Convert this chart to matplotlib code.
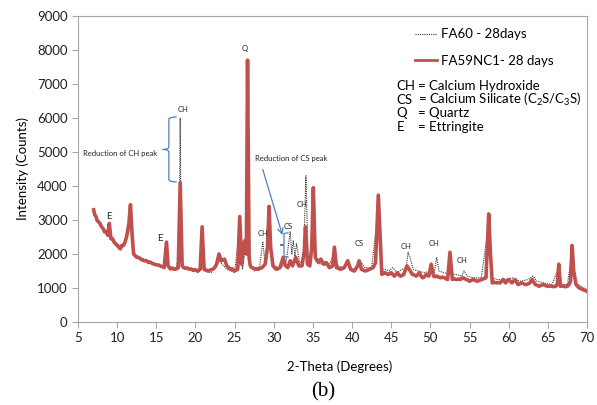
import matplotlib
matplotlib.use("Agg")
import matplotlib.pyplot as plt
from matplotlib.path import Path
from matplotlib.patches import PathPatch
from matplotlib.lines import Line2D

plt.rcParams['font.family'] = ['Lato', 'DejaVu Sans']
plt.rcParams['mathtext.fontset'] = 'custom'
plt.rcParams['mathtext.rm'] = 'Lato'

# FA59NC1 - 28 days (red)
red_theta = [7.0, 7.15, 7.3, 7.45, 7.6, 7.8, 8.0, 8.2, 8.4, 8.6, 8.8, 9.0, 9.2, 9.4, 9.6, 9.8, 10.0, 10.2,
             10.4, 10.6, 10.8, 11.0, 11.2, 11.5, 11.7, 11.9,
             12.1, 12.3, 12.5, 12.75, 13.0, 13.25, 13.5, 13.75, 14.0, 14.25, 14.5, 14.75, 15.0, 15.25,
             15.5, 15.75, 16.0, 16.3, 16.5, 16.8, 17.05, 17.3, 17.55, 17.8,
             18.05, 18.3, 18.5, 18.7, 18.95, 19.2, 19.45, 19.7, 19.95, 20.2, 20.6, 20.85, 21.1, 21.35,
             21.6, 21.9, 22.2, 22.45, 22.7, 23.0, 23.3,
             23.7, 24.0, 24.25, 24.5, 24.75, 25.0, 25.4, 25.65, 25.9, 26.1, 26.35, 26.5, 26.65, 26.85,
             27.0, 27.2, 27.4, 27.6, 27.8,
             28.0, 28.25, 28.5, 28.9, 29.2, 29.4, 29.6, 29.9, 30.1, 30.3, 30.55, 30.8, 31.2, 31.5, 31.8,
             32.1, 32.4, 32.8, 33.2, 33.6, 33.9, 34.05, 34.3, 34.6, 34.85, 35.05, 35.3, 35.7, 36.0,
             36.4, 36.7, 37.1, 37.3, 37.5, 37.75, 38.0, 38.25, 38.5, 38.75, 39.0, 39.45, 39.8, 40.05,
             40.3, 40.7, 40.9, 41.2, 41.45, 41.7, 41.95, 42.2,
             42.7, 43.0, 43.35, 43.55, 43.8, 44.0, 44.2, 44.4, 44.6, 44.8, 45.0, 45.2, 45.4, 45.6,
             45.8, 46.0, 46.2, 46.4, 46.6, 47.0, 47.3,
             47.7, 47.95, 48.2, 48.4, 48.6, 48.8, 49.0, 49.25, 49.5, 49.8, 50.1, 50.4, 50.6, 50.8,
             51.05, 51.3, 51.55, 51.8, 52.0, 52.2, 52.5, 52.8,
             53.05, 53.3, 53.55, 53.8, 54.0, 54.2, 54.4, 54.6, 54.8, 55.0, 55.25, 55.5, 55.75, 56.0,
             56.3, 56.6, 56.85, 57.1, 57.45, 57.65, 57.9, 58.15, 58.4, 58.65, 58.9,
             59.3, 59.6, 60.0, 60.4, 60.8, 61.2, 61.45, 61.7, 61.95, 62.2, 62.45, 62.7, 63.0, 63.4,
             63.65, 63.9, 64.15, 64.4, 64.7, 65.0,
             65.25, 65.5, 65.75, 66.0, 66.2, 66.4, 66.6, 66.8, 67.0, 67.25, 67.5, 67.7, 67.9, 68.1,
             68.3, 68.6, 68.8, 69.0, 69.25, 69.5, 69.75, 70.0]
red_counts = [3300, 3150, 3100, 2980, 2950, 2900, 2800, 2750, 2650, 2650, 2550, 2900, 2450, 2450, 2350, 2300,
              2250, 2200, 2150, 2250, 2250, 2350, 2500, 2900, 3450, 2600,
              2000, 1950, 1900, 1900, 1850, 1820, 1800, 1800, 1750, 1760, 1720, 1700, 1680, 1680,
              1650, 1630, 1600, 2350, 1650, 1560, 1580, 1550, 1560, 1600,
              4100, 1650, 1600, 1580, 1590, 1550, 1560, 1520, 1540, 1500, 1550, 2800, 1550, 1530,
              1500, 1530, 1550, 1600, 1700, 2000, 1800,
              1850, 1650, 1600, 1550, 1560, 1500, 1550, 3100, 1700, 2300, 2400, 2000, 7700, 1900,
              1650, 1600, 1580, 1550, 1570,
              1550, 1580, 1600, 1700, 2200, 3400, 2200, 1650, 1600, 1550, 1570, 1600, 1900, 1650, 1600,
              1800, 1650, 1900, 1650, 1650, 2100, 2800, 1700, 1650, 2200, 3950, 1900, 1750, 1850,
              1700, 1750, 1600, 1620, 1650, 2200, 1600, 1580, 1550, 1570, 1600, 1800, 1550, 1520,
              1500, 1650, 1800, 1550, 1520, 1500, 1520, 1550,
              1600, 1750, 3730, 2700, 1400, 1430, 1450, 1420, 1400, 1420, 1450, 1400, 1350, 1400,
              1450, 1380, 1350, 1370, 1400, 1650, 1550,
              1400, 1380, 1350, 1400, 1450, 1350, 1300, 1330, 1400, 1350, 1700, 1350, 1330, 1350,
              1320, 1300, 1320, 1300, 1270, 1250, 2050, 1250,
              1270, 1250, 1260, 1250, 1280, 1300, 1270, 1250, 1230, 1200, 1230, 1250, 1220, 1200,
              1230, 1250, 1280, 1300, 3180, 2100, 1150, 1170, 1150, 1160, 1150,
              1250, 1150, 1250, 1150, 1250, 1100, 1130, 1150, 1120, 1100, 1120, 1150, 1250, 1100,
              1080, 1050, 1080, 1100, 1070, 1050,
              1060, 1050, 1040, 1050, 1100, 1700, 1050, 1060, 1050, 1040, 1050, 1100, 1200, 2250,
              1500, 1100, 1050, 1000, 980, 950, 930, 900]

# FA60 - 28 days (black dotted)
blk_theta = [7.0, 7.5, 8.0, 8.5, 9.0, 9.3, 10.0, 10.5, 11.0, 11.5, 11.7, 12.0, 12.3, 13.0, 14.0, 15.0,
             16.0, 16.3, 16.6, 17.5, 17.9, 18.05, 18.2, 18.6, 19.5, 20.5, 20.85, 21.2, 22.0, 23.0,
             24.0, 25.0, 25.65, 26.0, 26.4, 26.65, 26.9, 27.5, 28.2, 28.6, 28.9, 29.4, 29.8, 30.5,
             31.2, 31.6, 32.1, 32.3, 32.5, 32.7, 32.9, 33.3, 33.8, 34.1, 34.4, 34.8, 35.05, 35.4,
             36.0, 37.0, 37.75, 38.2, 39.0, 39.45, 40.0, 40.6, 41.2, 41.6, 42.5, 43.35, 43.7, 44.2,
             44.7, 45.2, 45.7, 46.4, 46.9, 47.15, 47.4, 47.8, 48.5, 49.2, 50.0, 50.5, 50.8, 51.1,
             51.7, 52.5, 53.2, 54.0, 54.3, 54.7, 55.5, 56.5, 57.45, 57.8, 58.5, 59.5, 60.5, 61.5,
             62.5, 63.1, 63.6, 64.5, 65.5, 66.4, 66.8, 67.5, 68.1, 68.5, 69.2, 70.0]
blk_counts = [3200, 2950, 2800, 2650, 2800, 2500, 2300, 2250, 2350, 2700, 3200, 2300, 1950, 1900, 1800, 1700,
              1620, 2200, 1620, 1600, 1900, 6000, 1800, 1600, 1550, 1450, 2600, 1500, 1450, 1800,
              1550, 1450, 2800, 1550, 2200, 7400, 1700, 1500, 1650, 2350, 1700, 3000, 1700, 1600,
              1650, 1800, 2650, 2000, 2400, 1900, 2300, 1750, 1800, 4300, 1800, 1900, 3500, 1800,
              1700, 1650, 2000, 1650, 1600, 1750, 1550, 1600, 1750, 1600, 1600, 3300, 1550, 1550,
              1500, 1600, 1450, 1550, 1600, 2050, 1900, 1550, 1500, 1450, 1500, 1450, 1900, 1500,
              1450, 1400, 1400, 1350, 1500, 1350, 1300, 1300, 2900, 1300, 1250, 1250, 1300, 1200,
              1250, 1350, 1200, 1150, 1100, 1600, 1100, 1100, 2100, 1150, 1050, 950]

x_ticks = [5, 10, 15, 20, 25, 30, 35, 40, 45, 50, 55, 60, 65, 70]
y_ticks = [0, 1000, 2000, 3000, 4000, 5000, 6000, 7000, 8000, 9000]

# peak labels (text, theta, counts)
peak_labels = [('Q', 26.3, 8050), ('CH', 18.4, 6260), ('CH', 28.6, 2590), ('CS', 31.8, 2800),
               ('CH', 33.6, 3470), ('CS', 40.9, 2320), ('CH', 46.9, 2230), ('CH', 50.5, 2320),
               ('CH', 54.1, 1820)]
e_labels = [('E', 9.0, 3100), ('E', 15.5, 2450)]

red = '#C0504D'
blue = '#4F81BD'
grey = '#A6A6A6'


def brace(ax, x, y0, y1, w):
    # left-pointing curly brace from y0 to y1, hooks to the right by w
    ym = (y0 + y1) / 2
    h = (y1 - y0) * 0.04
    verts = [(x + w, y1), (x, y1), (x, y1 - h),
             (x, ym + h), (x, ym), (x - w * 0.8, ym),
             (x, ym), (x, ym - h),
             (x, y0 + h), (x, y0), (x + w, y0)]
    codes = [Path.MOVETO, Path.CURVE3, Path.CURVE3,
             Path.LINETO, Path.CURVE3, Path.CURVE3,
             Path.CURVE3, Path.CURVE3,
             Path.LINETO, Path.CURVE3, Path.CURVE3]
    ax.add_patch(PathPatch(Path(verts, codes), fill=False, edgecolor=blue, lw=0.9, zorder=5))


fig = plt.figure(figsize=(5.97, 4.05), dpi=100)
ax = fig.add_axes([78 / 597, 1 - 322 / 405, 509 / 597, 306 / 405])

ax.plot(blk_theta, blk_counts, color='#333333', lw=0.8, ls=(0, (1, 1)), zorder=2)
ax.plot(red_theta, red_counts, color=red, lw=2.6, zorder=3)

ax.set_xlim(5, 70)
ax.set_ylim(0, 9000)
ax.set_xticks(x_ticks)
ax.set_yticks(y_ticks)
ax.tick_params(axis='both', colors=grey, labelcolor='#222222', labelsize=9.5, length=4, width=0.8)
for s in ax.spines.values():
    s.set_color(grey)
    s.set_linewidth(0.8)

ax.set_xlabel('2-Theta (Degrees)', fontsize=9.5, va='center')
ax.xaxis.set_label_coords((340 - 78) / 509, -(367 - 322) / 306)
ax.set_ylabel('Intensity (Counts)', fontsize=9.5, labelpad=6)

for t, x, y in peak_labels:
    ax.text(x, y, t, fontsize=5.5, ha='center', va='center', color='#222222')
for t, x, y in e_labels:
    ax.text(x, y, t, fontsize=7, ha='center', va='center', color='#222222')

# reduction of CH peak
brace(ax, 16.6, 4120, 6030, 1.0)
ax.text(10.4, 4970, 'Reduction of CH peak', fontsize=5.5, ha='center', va='center', color='#222222')

# reduction of CS peak
brace(ax, 31.3, 1910, 2620, 0.6)
ax.annotate('', xy=(31.2, 2480), xytext=(28.5, 4560),
            arrowprops=dict(arrowstyle='->', color=blue, lw=0.9))
ax.text(32.2, 4800, 'Reduction of CS peak', fontsize=5.5, ha='center', va='center', color='#222222')

# legend
handles = [Line2D([], [], color='#333333', lw=0.8, ls=(0, (1, 1))),
           Line2D([], [], color=red, lw=2.0)]
ax.legend(handles, ['FA60 - 28days', 'FA59NC1- 28 days'], loc='upper left',
          bbox_to_anchor=(0.662, 0.96), frameon=False, fontsize=9.5, borderpad=0,
          borderaxespad=0, handlelength=1.7, handletextpad=0.25, labelspacing=1.1)

key_abbr = ['CH', 'CS', 'Q', 'E']
key_text = ['= Calcium Hydroxide', '= Calcium Silicate (C$_2$S/C$_3$S)', '= Quartz', '= Ettringite']
for i in range(len(key_abbr)):
    yy = 0.771 - i * 0.0445
    ax.text(0.626, yy, key_abbr[i], transform=ax.transAxes, fontsize=9.5, va='center')
    ax.text(0.667, yy, key_text[i], transform=ax.transAxes, fontsize=9.5, va='center')

fig.text(323 / 597, 1 - 392 / 405, '(b)', fontsize=15, family='Liberation Serif', ha='center', va='center')

fig.savefig('out.png', dpi=100)
